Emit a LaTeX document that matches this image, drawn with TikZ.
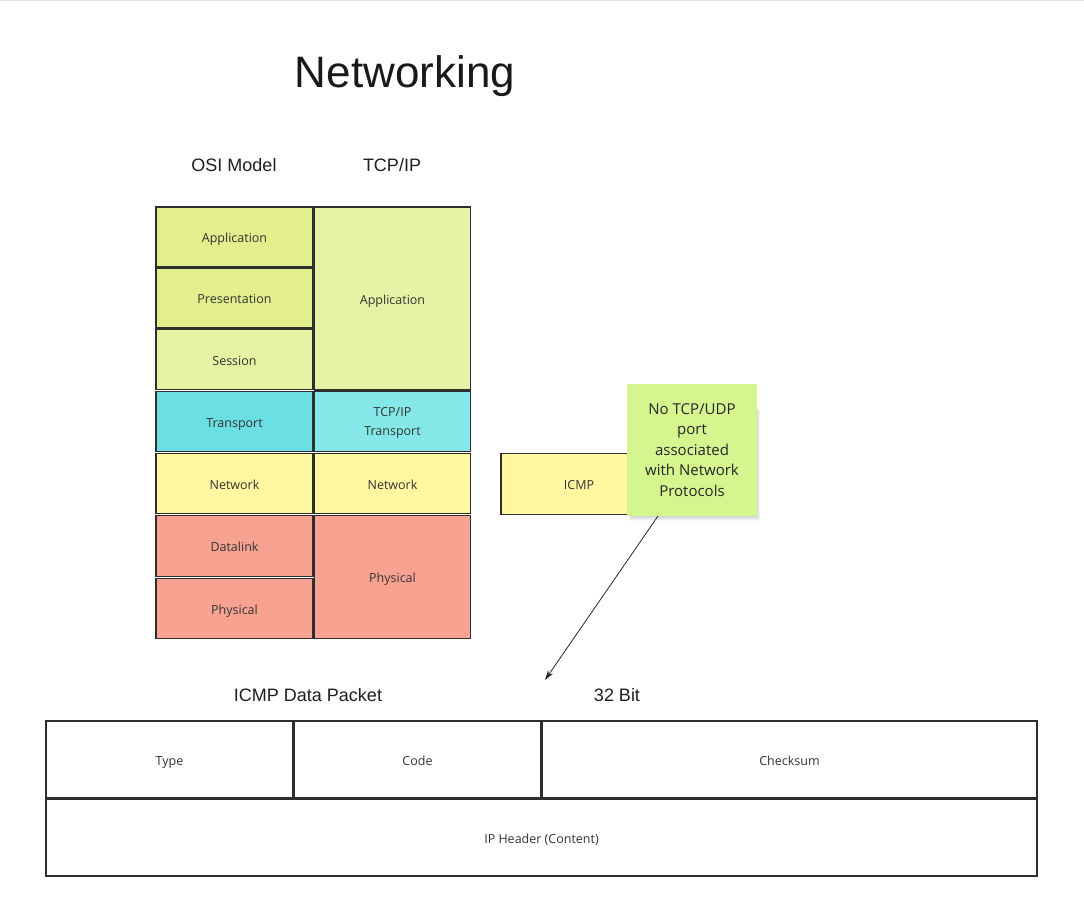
\documentclass[tikz,border=0pt]{standalone}
\usepackage{fontspec}
\setmainfont{Liberation Sans}
\newfontfamily\boxfont{Open Sans}
\usetikzlibrary{arrows.meta}
\definecolor{appA}{HTML}{E2EF8C}
\definecolor{appS}{HTML}{E6F2A3}
\definecolor{appT}{HTML}{E6F3A6}
\definecolor{trO}{HTML}{6CDFE3}
\definecolor{trT}{HTML}{86E7E9}
\definecolor{netY}{HTML}{FFF8A0}
\definecolor{salm}{HTML}{F8A292}
\definecolor{note}{HTML}{D5F58F}
\definecolor{edge}{HTML}{2E2E2E}
\definecolor{txt}{HTML}{333333}
\tikzset{
  layer/.style={draw=edge, line width=1.6pt, inner sep=0pt, text=txt,
    font=\boxfont\fontsize{12.5}{19}\selectfont, align=center},
  one/.style={text height=11.2pt, text depth=0pt},
  cell/.style={draw=edge, line width=1.6pt, inner sep=0pt, text=txt, fill=white,
    font=\boxfont\fontsize{12.5}{16}\selectfont, align=center, one},
  heading/.style={inner sep=0pt, text=black!88, font=\fontsize{18}{22}\selectfont},
}
\begin{document}
\begin{tikzpicture}[x=1pt,y=-1pt]
\useasboundingbox (0,0) rectangle (1084,922);
\fill[white] (0,0) rectangle (1084,922);
\draw[black!12, line width=0.8pt] (0,0.5) -- (1084,0.5);

\node[inner sep=0pt, anchor=base, text=black!90, font=\fontsize{44}{50}\selectfont] (title) at (405,87) {Networking};
\node[heading] (osi) at (234,165) {OSI Model};
\node[heading] (tcp) at (392,165) {TCP/IP};

% OSI column
\node[layer, one, fill=appA, minimum width=157pt, minimum height=60pt] (oapp) at (234.5,237) {Application};
\node[layer, one, fill=appA, minimum width=157pt, minimum height=60pt] (opres) at (234.5,298) {Presentation};
\node[layer, one, fill=appS, minimum width=157pt, minimum height=60pt] (osess) at (234.5,359.5) {Session};
\node[layer, one, fill=trO, minimum width=157pt, minimum height=60pt] (otr) at (234.5,421.5) {Transport};
\node[layer, one, fill=netY, minimum width=157pt, minimum height=60pt] (onet) at (234.5,483.5) {Network};
\node[layer, one, fill=salm, minimum width=157pt, minimum height=61pt] (odl) at (234.5,546) {Datalink};
\node[layer, one, fill=salm, minimum width=157pt, minimum height=60pt] (ophy) at (234.5,608.5) {Physical};

% TCP/IP column
\node[layer, one, fill=appT, minimum width=156pt, minimum height=183pt] (tapp) at (392.5,298.5) {Application};
\node[layer, fill=trT, minimum width=156pt, minimum height=60pt] (ttr) at (392.5,421.5) {};
\node[text=txt, font=\boxfont\fontsize{12.5}{19}\selectfont, align=center, inner sep=0pt] (ttrl) at (392.5,423) {TCP/IP\\Transport};
\node[layer, one, fill=netY, minimum width=156pt, minimum height=60pt] (tnet) at (392.5,483.5) {Network};
\node[layer, one, fill=salm, minimum width=156pt, minimum height=123pt] (tphy) at (392.5,577) {Physical};

% ICMP
\node[layer, fill=netY, minimum width=158pt, minimum height=61pt] (icmp) at (580,484) {};
\node[text=txt, one, font=\boxfont\fontsize{12.5}{16}\selectfont, inner sep=0pt] (icmpl) at (579,484) {ICMP};

% sticky note shadow (soft)
\foreach \i in {1,...,10}{
  \fill[black, opacity=0.022] (632-\i*0.3,404+\i*0.6) rectangle (755+\i*0.5,514+\i*0.7);
}
\node[fill=note, minimum width=130pt, minimum height=132pt, inner sep=0pt] (notebg) at (692,450) {};
\node[text=black!85, font=\boxfont\fontsize{15}{20.5}\selectfont, align=center, inner sep=0pt] (notetxt) at (692,450) {No TCP/UDP\\port\\associated\\with Network\\Protocols};

\coordinate (arrend) at (545,680);
\draw[black!85, line width=0.8pt, -{Stealth[length=10pt,width=6pt]}] (658,516) -- (arrend);

% ICMP data packet
\node[heading] (pkt) at (308,695) {ICMP Data Packet};
\node[heading] (bits) at (617,695) {32 Bit};
\node[cell, minimum width=247pt, minimum height=77pt] (type) at (169.5,759.5) {Type};
\node[cell, minimum width=247pt, minimum height=77pt] (code) at (417.5,759.5) {Code};
\node[cell, minimum width=495pt, minimum height=77pt] (chk) at (789.5,759.5) {Checksum};
\node[cell, minimum width=991pt, minimum height=77pt] (iph) at (541.5,837.5) {IP Header (Content)};
\end{tikzpicture}
\end{document}
